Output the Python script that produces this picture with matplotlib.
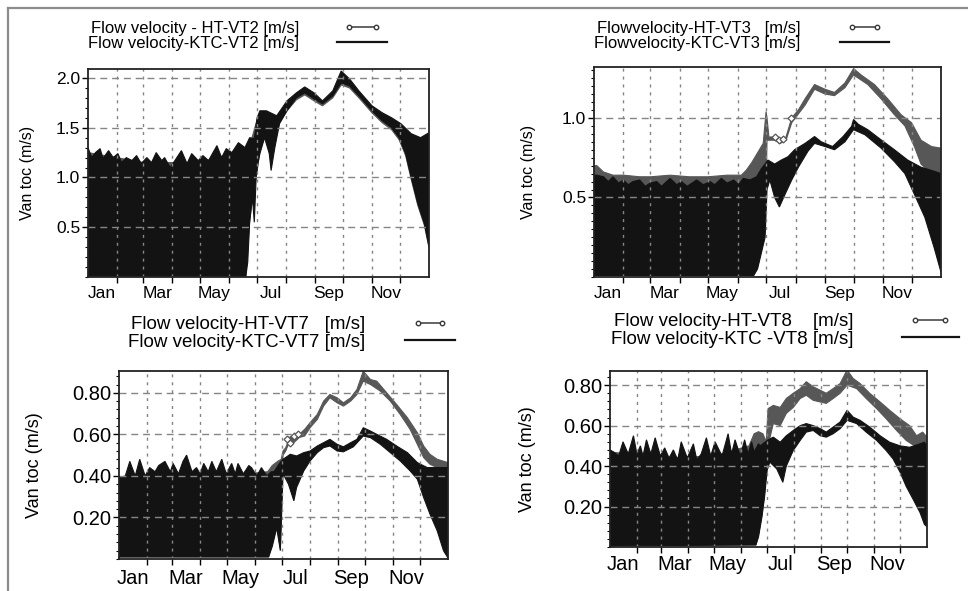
import numpy as np
import matplotlib.pyplot as plt
from matplotlib.lines import Line2D
from matplotlib.legend_handler import HandlerLine2D
from matplotlib.ticker import MultipleLocator

plt.rcParams['font.family'] = ['Liberation Sans', 'DejaVu Sans']

# x axis: day of year
month_start = [31, 59, 90, 120, 151, 181, 212, 243, 273, 304, 334]
month_mid = [15, 74, 135, 196, 258, 319]
month_labels = ['Jan', 'Mar', 'May', 'Jul', 'Sep', 'Nov']

# ---- VT2 (envelopes of the tidal signal) ----
vt2_ktc_top_day = [0, 4, 8, 13, 16, 22, 27, 32, 36, 41, 47, 52, 57, 63, 68, 73, 79, 82, 88, 93,
                   100, 106, 111, 118, 123, 129, 138, 143, 148, 154, 161, 168, 173, 178, 181, 184,
                   191, 202, 213, 223, 232, 242, 251, 262, 271, 280, 290, 304, 315, 325, 335, 346, 356, 365]
vt2_ktc_top = [1.30, 1.20, 1.25, 1.29, 1.19, 1.27, 1.20, 1.24, 1.15, 1.20, 1.17, 1.22, 1.14, 1.20, 1.15,
               1.25, 1.17, 1.20, 1.10, 1.17, 1.27, 1.14, 1.24, 1.17, 1.22, 1.17, 1.32, 1.20, 1.29, 1.25,
               1.35, 1.30, 1.40, 1.39, 1.60, 1.67, 1.67, 1.62, 1.77, 1.85, 1.91, 1.85, 1.77, 1.87, 2.07,
               1.99, 1.87, 1.72, 1.65, 1.60, 1.54, 1.44, 1.40, 1.45]
vt2_ktc_bot_day = [0, 169, 171, 173, 176, 178, 180, 182, 184, 189, 194, 196, 200, 205, 213, 223, 232,
                   242, 251, 262, 271, 280, 290, 304, 315, 325, 333, 340, 346, 353, 360, 365]
vt2_ktc_bot = [0.01, 0.01, 0.15, 0.55, 0.80, 0.55, 1.00, 1.15, 1.24, 1.40, 1.24, 1.07, 1.30, 1.54, 1.67,
               1.80, 1.85, 1.79, 1.74, 1.82, 1.95, 1.92, 1.82, 1.67, 1.57, 1.50, 1.40, 1.24, 1.00, 0.74,
               0.54, 0.30]
vt2_ht_top_day = [0, 60, 120, 168, 175, 181, 191, 202, 213, 223, 232, 242, 251, 262, 271, 280, 290,
                  304, 315, 325, 335, 346, 356, 365]
vt2_ht_top = [1.25, 1.15, 1.15, 1.28, 1.38, 1.58, 1.65, 1.60, 1.75, 1.83, 1.89, 1.83, 1.75, 1.85, 2.04,
              1.97, 1.85, 1.70, 1.63, 1.58, 1.52, 1.42, 1.38, 1.42]
vt2_ht_bot_day = [0, 169, 173, 176, 180, 184, 189, 194, 200, 205, 213, 223, 232, 242, 251, 262, 271,
                  280, 290, 304, 315, 325, 333, 340, 346, 353, 360, 365]
vt2_ht_bot = [0.01, 0.01, 0.55, 0.80, 1.00, 1.26, 1.42, 1.30, 1.35, 1.56, 1.67, 1.78, 1.83, 1.77, 1.72,
              1.80, 1.93, 1.90, 1.80, 1.65, 1.55, 1.48, 1.38, 1.22, 0.98, 0.72, 0.52, 0.30]
vt2_mark_day = []
vt2_mark = []

# ---- VT3 ----
vt3_ktc_top_day = [0, 3, 10, 15, 20, 26, 31, 36, 41, 48, 54, 59, 66, 71, 80, 87, 92, 98, 108, 115, 122,
                   127, 134, 140, 147, 152, 157, 164, 171, 176, 183, 190, 197, 204, 211, 222, 232, 239,
                   251, 262, 271, 273, 278, 288, 302, 316, 330, 344, 355, 365]
vt3_ktc_top = [0.64, 0.64, 0.63, 0.60, 0.63, 0.59, 0.61, 0.58, 0.60, 0.61, 0.57, 0.59, 0.60, 0.57, 0.62,
               0.58, 0.60, 0.57, 0.61, 0.58, 0.60, 0.58, 0.62, 0.59, 0.61, 0.58, 0.62, 0.61, 0.63, 0.68,
               0.735, 0.71, 0.735, 0.756, 0.80, 0.84, 0.883, 0.85, 0.82, 0.883, 0.947, 0.99, 0.96, 0.926,
               0.862, 0.80, 0.735, 0.69, 0.67, 0.65]
vt3_ktc_bot_day = [0, 168, 172, 176, 180, 182, 185, 190, 195, 201, 208, 215, 225, 232, 243, 253, 264,
                   273, 285, 302, 316, 327, 337, 348, 358, 365]
vt3_ktc_bot = [0.01, 0.01, 0.05, 0.15, 0.25, 0.55, 0.61, 0.50, 0.44, 0.52, 0.61, 0.69, 0.79, 0.84, 0.82,
               0.80, 0.85, 0.926, 0.894, 0.81, 0.725, 0.65, 0.52, 0.375, 0.18, 0.03]
vt3_ht_top_day = [0, 3, 10, 20, 31, 48, 60, 80, 100, 120, 140, 155, 160, 166, 172, 178, 181, 182, 184,
                  190, 196, 202, 208, 215, 222, 232, 243, 253, 264, 273, 281, 295, 309, 323, 334, 344,
                  355, 365]
vt3_ht_top = [0.70, 0.70, 0.66, 0.64, 0.64, 0.63, 0.63, 0.64, 0.63, 0.63, 0.64, 0.64, 0.67, 0.72, 0.78,
              0.84, 1.04, 1.00, 0.88, 0.88, 0.86, 0.88, 1.00, 1.05, 1.12, 1.21, 1.18, 1.16, 1.22, 1.31,
              1.27, 1.21, 1.12, 1.02, 0.97, 0.86, 0.82, 0.81]
vt3_ht_bot_day = [0, 168, 172, 176, 180, 182, 184, 190, 196, 202, 208, 222, 232, 243, 253, 264, 273,
                  288, 302, 316, 327, 337, 344, 351, 358, 365]
vt3_ht_bot = [0.01, 0.01, 0.06, 0.17, 0.30, 0.86, 0.86, 0.86, 0.84, 0.86, 0.97, 1.08, 1.18, 1.15, 1.14,
              1.19, 1.27, 1.21, 1.12, 1.02, 0.95, 0.82, 0.71, 0.67, 0.65, 0.60]
vt3_mark_day = [190, 195, 199, 207]
vt3_mark = [0.88, 0.86, 0.87, 1.00]

# ---- VT7 ----
vt7_ktc_top_day = [0, 7, 12, 18, 23, 29, 34, 40, 44, 51, 57, 60, 66, 71, 75, 81, 86, 90, 94, 99, 103,
                   108, 114, 119, 125, 129, 132, 138, 144, 147, 153, 158, 164, 169, 172, 178, 182, 190,
                   197, 205, 212, 220, 227, 234, 242, 249, 257, 264, 271, 279, 286, 297, 308, 320, 331,
                   342, 353, 365]
vt7_ktc_top = [0.39, 0.40, 0.47, 0.40, 0.48, 0.40, 0.44, 0.42, 0.45, 0.47, 0.42, 0.46, 0.41, 0.47, 0.50,
               0.42, 0.44, 0.41, 0.46, 0.42, 0.47, 0.42, 0.48, 0.41, 0.46, 0.41, 0.46, 0.41, 0.45, 0.44,
               0.40, 0.44, 0.40, 0.42, 0.42, 0.46, 0.48, 0.504, 0.496, 0.512, 0.52, 0.544, 0.56, 0.576,
               0.552, 0.54, 0.56, 0.576, 0.632, 0.616, 0.60, 0.576, 0.544, 0.512, 0.464, 0.44, 0.44, 0.44]
vt7_ktc_bot_day = [0, 166, 170, 175, 179, 182, 188, 194, 197, 205, 212, 220, 227, 234, 242, 249, 260,
                   271, 279, 290, 301, 312, 323, 331, 338, 345, 353, 360, 365]
vt7_ktc_bot = [0.01, 0.01, 0.06, 0.15, 0.04, 0.41, 0.36, 0.28, 0.344, 0.424, 0.472, 0.512, 0.536, 0.544,
               0.52, 0.516, 0.54, 0.592, 0.584, 0.552, 0.512, 0.472, 0.424, 0.384, 0.296, 0.216, 0.136,
               0.04, 0.005]
vt7_ht_top_day = [0, 60, 120, 165, 170, 176, 180, 182, 185, 190, 194, 200, 206, 212, 220, 227, 234, 242,
                  249, 257, 264, 271, 279, 286, 297, 308, 320, 331, 338, 345, 353, 365]
vt7_ht_top = [0.38, 0.40, 0.40, 0.42, 0.45, 0.47, 0.48, 0.52, 0.536, 0.59, 0.576, 0.60, 0.624, 0.656,
              0.696, 0.76, 0.792, 0.776, 0.752, 0.776, 0.816, 0.904, 0.864, 0.856, 0.80, 0.744, 0.68,
              0.608, 0.544, 0.504, 0.48, 0.464]
vt7_ht_bot_day = [0, 166, 170, 175, 179, 182, 185, 190, 194, 200, 206, 212, 220, 227, 234, 242, 249,
                  257, 264, 271, 279, 290, 301, 312, 323, 331, 338, 345, 353, 365]
vt7_ht_bot = [0.01, 0.01, 0.07, 0.16, 0.05, 0.50, 0.52, 0.575, 0.56, 0.585, 0.592, 0.632, 0.672, 0.736,
              0.776, 0.752, 0.736, 0.76, 0.792, 0.856, 0.84, 0.808, 0.76, 0.696, 0.624, 0.552, 0.488,
              0.456, 0.44, 0.44]
vt7_mark_day = [186, 190, 194, 199]
vt7_mark = [0.58, 0.56, 0.59, 0.60]

# ---- VT8 ----
vt8_ktc_top_day = [0, 4, 10, 15, 21, 27, 31, 35, 38, 42, 47, 52, 58, 63, 68, 73, 78, 82, 89, 96, 100,
                   105, 111, 116, 121, 129, 136, 140, 144, 150, 155, 159, 163, 166, 171, 173, 176, 181,
                   188, 196, 203, 211, 219, 226, 234, 242, 249, 257, 265, 273, 280, 288, 299, 311, 322,
                   334, 345, 357, 362, 365]
vt8_ktc_top = [0.48, 0.47, 0.45, 0.52, 0.46, 0.55, 0.46, 0.50, 0.45, 0.53, 0.46, 0.54, 0.45, 0.49, 0.44,
               0.48, 0.43, 0.52, 0.44, 0.51, 0.43, 0.46, 0.54, 0.45, 0.52, 0.45, 0.56, 0.46, 0.53, 0.45,
               0.53, 0.46, 0.52, 0.47, 0.51, 0.50, 0.51, 0.527, 0.543, 0.518, 0.55, 0.576, 0.60, 0.61,
               0.60, 0.585, 0.568, 0.593, 0.618, 0.676, 0.642, 0.626, 0.593, 0.55, 0.518, 0.50, 0.493,
               0.51, 0.518, 0.50]
vt8_ktc_bot_day = [0, 168, 171, 175, 178, 181, 184, 192, 199, 203, 211, 219, 226, 234, 242, 249, 257,
                   265, 273, 284, 295, 307, 318, 326, 334, 341, 349, 357, 362, 365]
vt8_ktc_bot = [0.005, 0.01, 0.05, 0.15, 0.25, 0.38, 0.42, 0.386, 0.32, 0.40, 0.477, 0.527, 0.568, 0.576,
               0.55, 0.543, 0.56, 0.585, 0.626, 0.61, 0.568, 0.527, 0.477, 0.435, 0.37, 0.30, 0.236, 0.17,
               0.112, 0.10]
vt8_ht_top_day = [0, 60, 120, 160, 166, 171, 176, 180, 182, 188, 196, 203, 211, 219, 226, 234, 242, 249,
                  257, 265, 273, 280, 288, 299, 311, 322, 334, 345, 353, 360, 365]
vt8_ht_top = [0.47, 0.44, 0.45, 0.50, 0.56, 0.57, 0.56, 0.52, 0.684, 0.70, 0.69, 0.734, 0.76, 0.783,
              0.817, 0.792, 0.775, 0.76, 0.783, 0.808, 0.875, 0.833, 0.808, 0.76, 0.717, 0.676, 0.634,
              0.60, 0.55, 0.568, 0.543]
vt8_ht_bot_day = [0, 168, 171, 175, 178, 181, 182, 188, 196, 203, 211, 219, 226, 234, 242, 249, 257, 265,
                  273, 284, 295, 307, 318, 330, 341, 353, 365]
vt8_ht_bot = [0.01, 0.01, 0.06, 0.16, 0.26, 0.45, 0.50, 0.61, 0.60, 0.66, 0.69, 0.734, 0.75, 0.725,
              0.717, 0.71, 0.734, 0.76, 0.80, 0.783, 0.734, 0.684, 0.634, 0.576, 0.527, 0.493, 0.50]
vt8_mark_day = []
vt8_mark = []

HT_COL = '#575757'
KTC_COL = '#131313'
GRID_COL = '#858585'

fig = plt.figure(figsize=(9.68, 5.91), dpi=100)

# outer frame (top and left edges visible)
fig.add_artist(Line2D([8 / 968, 1.0], [1 - 8 / 591, 1 - 8 / 591], transform=fig.transFigure,
                      color='#8c8c8c', lw=1.6))
fig.add_artist(Line2D([8 / 968, 8 / 968], [0, 1 - 8 / 591], transform=fig.transFigure,
                      color='#8c8c8c', lw=1.6))


def band(ax, td, t, bd, b, color, z):
    xs = np.r_[np.array(td, float), np.array(bd, float)[::-1]]
    ys = np.r_[np.array(t, float), np.array(b, float)[::-1]]
    ax.fill(xs, ys, facecolor=color, edgecolor=color, lw=0.8, zorder=z)


panels = [
    dict(rect=[88, 69, 429, 277], ylim=2.09, yticks=[0.5, 1.0, 1.5, 2.0], fmt='%.1f', minor=0.1,
         ht=(vt2_ht_top_day, vt2_ht_top, vt2_ht_bot_day, vt2_ht_bot),
         ktc=(vt2_ktc_top_day, vt2_ktc_top, vt2_ktc_bot_day, vt2_ktc_bot),
         mark=(vt2_mark_day, vt2_mark),
         labels=['Flow velocity - HT-VT2 [m/s]', 'Flow velocity-KTC-VT2 [m/s]'],
         leg=(88, 21), lfs=12, hl=3.6, hp=2.0, ls=0.0, tfs=12.5, yfs=11.5, ylx=-0.155, xpad=6.5),
    dict(rect=[594, 67, 941, 277], ylim=1.32, yticks=[0.5, 1.0], fmt='%.1f', minor=0.05,
         ht=(vt3_ht_top_day, vt3_ht_top, vt3_ht_bot_day, vt3_ht_bot),
         ktc=(vt3_ktc_top_day, vt3_ktc_top, vt3_ktc_bot_day, vt3_ktc_bot),
         mark=(vt3_mark_day, vt3_mark),
         labels=['Flowvelocity-HT-VT3   [m/s]', 'Flowvelocity-KTC-VT3 [m/s]'],
         leg=(594, 21), lfs=12, hl=3.5, hp=2.1, ls=0.0, tfs=12.5, yfs=11.5, ylx=-0.167, xpad=6.5),
    dict(rect=[119, 371, 448, 559], ylim=0.905, yticks=[0.2, 0.4, 0.6, 0.8], fmt='%.2f', minor=0.04,
         ht=(vt7_ht_top_day, vt7_ht_top, vt7_ht_bot_day, vt7_ht_bot),
         ktc=(vt7_ktc_top_day, vt7_ktc_top, vt7_ktc_bot_day, vt7_ktc_bot),
         mark=(vt7_mark_day, vt7_mark),
         labels=['Flow velocity-HT-VT7   [m/s]', 'Flow velocity-KTC-VT7 [m/s]'],
         leg=(128, 316), lfs=13.5, hl=3.3, hp=1.8, ls=0.02, tfs=14.5, yfs=13, ylx=-0.231, xpad=7),
    dict(rect=[610, 371, 927, 547], ylim=0.87, yticks=[0.2, 0.4, 0.6, 0.8], fmt='%.2f', minor=0.04,
         ht=(vt8_ht_top_day, vt8_ht_top, vt8_ht_bot_day, vt8_ht_bot),
         ktc=(vt8_ktc_top_day, vt8_ktc_top, vt8_ktc_bot_day, vt8_ktc_bot),
         mark=(vt8_mark_day, vt8_mark),
         labels=['Flow velocity-HT-VT8    [m/s]', 'Flow velocity-KTC -VT8 [m/s]'],
         leg=(611, 313), lfs=13.5, hl=3.6, hp=2.3, ls=0.02, tfs=14.5, yfs=13, ylx=-0.233, xpad=5.5),
]

for p in panels:
    x0, y0, x1, y1 = p['rect']
    ax = fig.add_axes([x0 / 968, 1 - y1 / 591, (x1 - x0) / 968, (y1 - y0) / 591])

    band(ax, *p['ht'], HT_COL, 1)
    band(ax, *p['ktc'], KTC_COL, 1.5)
    if p['mark'][0]:
        ax.plot(p['mark'][0], p['mark'][1], ls='none', marker='D', ms=3.5, mfc='white',
                mec=HT_COL, mew=0.9, zorder=3)

    ax.set_xlim(0, 365)
    ax.set_ylim(0, p['ylim'])

    ax.set_xticks(month_start)
    ax.set_xticklabels([])
    ax.set_xticks(month_mid, minor=True)
    ax.set_xticklabels(month_labels, minor=True, fontsize=p['tfs'])
    ax.tick_params(axis='x', which='major', direction='out', length=4, width=1)
    ax.tick_params(axis='x', which='minor', length=0, pad=p['xpad'])

    ax.set_yticks(p['yticks'])
    ax.set_yticklabels([p['fmt'] % v for v in p['yticks']], fontsize=p['tfs'])
    ax.yaxis.set_minor_locator(MultipleLocator(p['minor']))
    ax.tick_params(axis='y', which='major', direction='out', length=4, width=1, pad=1.5)
    ax.tick_params(axis='y', which='minor', direction='out', length=2, width=0.8)

    ax.set_axisbelow(False)
    ax.grid(axis='y', which='major', color=GRID_COL, ls=(0, (5, 3.5)), lw=1.0)
    ax.grid(axis='x', which='major', color=GRID_COL, ls=(0, (2.2, 3.5)), lw=1.0)

    for s in ax.spines.values():
        s.set_linewidth(1.3)
        s.set_color('#222222')
        s.set_zorder(4)

    ax.set_ylabel('Van toc (m/s)', fontsize=p['yfs'])
    ax.yaxis.set_label_coords(p['ylx'], 0.5)

    h_ht = Line2D([], [], color='#3a3a3a', lw=1.1, marker='o', ms=3.2, mfc='white', mec='#3a3a3a')
    h_ktc = Line2D([], [], color=KTC_COL, lw=1.6)
    lx, ly = p['leg']
    ax.legend([h_ht, h_ktc], p['labels'], loc='upper left',
              bbox_to_anchor=(lx / 968, 1 - ly / 591), bbox_transform=fig.transFigure,
              frameon=False, markerfirst=False, numpoints=2, fontsize=p['lfs'],
              handlelength=p['hl'], handletextpad=p['hp'], labelspacing=p['ls'],
              borderpad=0, borderaxespad=0,
              handler_map={h_ht: HandlerLine2D(numpoints=2, marker_pad=1.0)})

fig.savefig('out.png', dpi=100)
